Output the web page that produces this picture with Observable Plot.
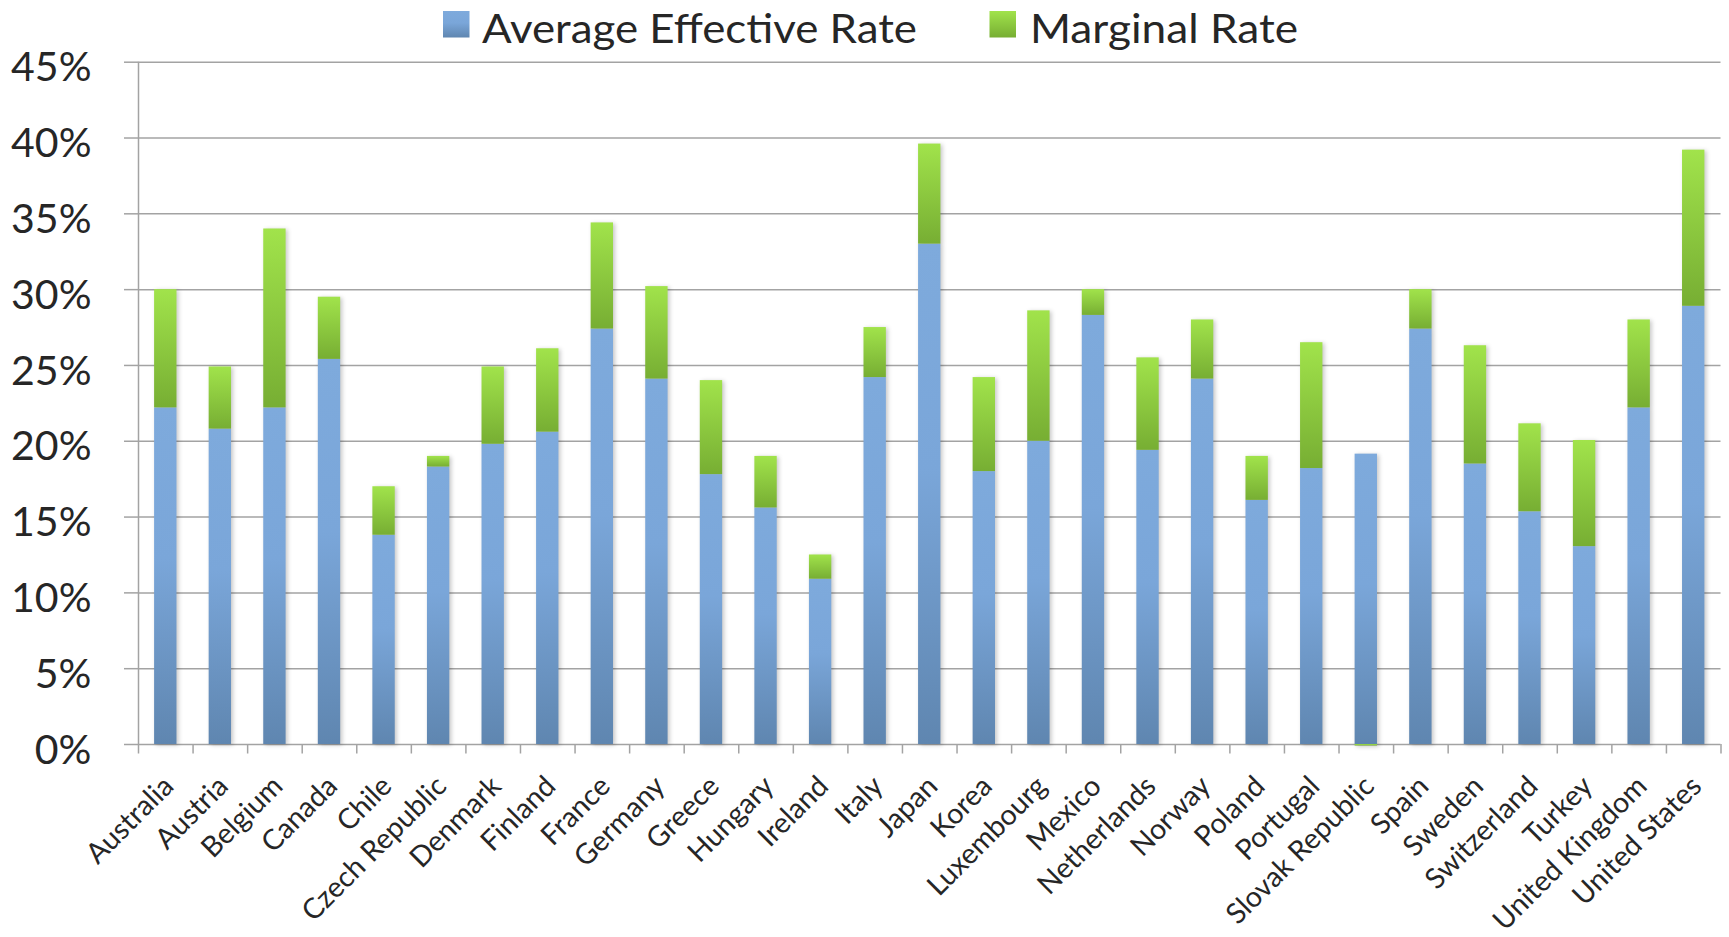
<!DOCTYPE html>
<html>
<head>
<meta charset="utf-8">
<script src="https://cdn.jsdelivr.net/npm/d3@7"></script>
<script src="https://cdn.jsdelivr.net/npm/@observablehq/plot@0.6"></script>
<style>
  html, body { margin: 0; padding: 0; background: #ffffff; }
  body { font-family: Lato, "Open Sans", sans-serif; color: #262626; }
  #legend, #chart { display: block; }
  #chart svg { display: block; }
</style>
</head>
<body>
<svg id="legend" width="1729" height="54"></svg>
<div id="chart"></div>
<script>
// ---- data ----
const countries = [
  "Australia", "Austria", "Belgium", "Canada", "Chile", "Czech Republic", "Denmark",
  "Finland", "France", "Germany", "Greece", "Hungary", "Ireland", "Italy", "Japan",
  "Korea", "Luxembourg", "Mexico", "Netherlands", "Norway", "Poland", "Portugal",
  "Slovak Republic", "Spain", "Sweden", "Switzerland", "Turkey", "United Kingdom",
  "United States"
];
const averageEffectiveRate = [
  22.2, 20.8, 22.2, 25.4, 13.8, 18.3, 19.8,
  20.6, 27.4, 24.1, 17.8, 15.6, 10.9, 24.2, 33.0,
  18.0, 20.0, 28.3, 19.4, 24.1, 16.1, 18.2,
  19.15, 27.4, 18.5, 15.35, 13.05, 22.2,
  28.9
];
const marginalRate = [
  7.8, 4.1, 11.8, 4.1, 3.2, 0.7, 5.1,
  5.5, 7.0, 6.1, 6.2, 3.4, 1.6, 3.3, 6.6,
  6.2, 8.6, 1.7, 6.1, 3.9, 2.9, 8.3,
  -0.1, 2.6, 7.8, 5.8, 7.0, 5.8,
  10.3
];
const seriesNames = ["Average Effective Rate", "Marginal Rate"];
const yTicks = [0, 5, 10, 15, 20, 25, 30, 35, 40, 45];

const rows = countries.flatMap((c, i) => [
  { country: c, series: seriesNames[0], value: averageEffectiveRate[i] },
  { country: c, series: seriesNames[1], value: marginalRate[i] }
]);

// ---- layout ----
const LEGEND_H = 54;
const W = 1729, H = 937 - LEGEND_H;
const mL = 138, mR = 8.5, mT = 61.7 - LEGEND_H, mB = H - (744 - LEGEND_H);
const step = (W - mL - mR) / countries.length;
const gridColor = "#a3a3a3";
const textColor = "#262626";
const FONT = "Lato, 'Open Sans', sans-serif";

const plot = Plot.plot({
  width: W,
  height: H,
  marginLeft: mL,
  marginRight: mR,
  marginTop: mT,
  marginBottom: mB,
  style: { fontFamily: FONT, color: textColor, background: "transparent", overflow: "visible" },
  x: { domain: countries, paddingInner: 0.59, paddingOuter: 0.295, round: false, label: null },
  y: { domain: [0, 45], label: null },
  color: { domain: seriesNames, range: ["url(#gBlue)", "url(#gGreen)"] },
  marks: [
    Plot.gridY({ ticks: yTicks, stroke: gridColor, strokeOpacity: 1, strokeWidth: 1.5 }),
    Plot.axisY({ ticks: yTicks, tickSize: 14, tickFormat: () => "", stroke: gridColor, strokeWidth: 1.5, label: null }),
    Plot.axisY({ ticks: yTicks, tickSize: 0, tickPadding: 47, fontSize: 41, dy: 6,
                 tickFormat: d => d + "%", fill: textColor, label: null }),
    // y-axis line at the left edge of the first band step
    Plot.ruleX([countries[0]], { x: d => d, y1: 0, y2: 45, dx: -step / 2, stroke: gridColor, strokeWidth: 1.5 }),
    // category boundary tick marks below the baseline
    Plot.ruleX(countries, { x: d => d, y1: 0, y2: 0, insetBottom: -9.5, dx: -step / 2, stroke: gridColor, strokeWidth: 1.5 }),
    Plot.ruleX([countries[countries.length - 1]], { x: d => d, y1: 0, y2: 0, insetBottom: -9.5, dx: step / 2, stroke: gridColor, strokeWidth: 1.5 }),
    Plot.barY(rows, Plot.stackY({ x: "country", y: "value", fill: "series" })),
    Plot.axisX({ tickSize: 0, tickRotate: -45, tickPadding: 37, dx: 3, fontSize: 28.5,
                 textAnchor: "end", lineAnchor: "middle", fill: textColor, label: null })
  ]
});

// gradients for the bars
const svg = d3.select(plot);
const defs = svg.insert("defs", ":first-child");
function addGradient(sel, id, stops) {
  const g = sel.append("linearGradient").attr("id", id)
    .attr("x1", 0).attr("y1", 0).attr("x2", 0).attr("y2", 1);
  stops.forEach(([o, c]) => g.append("stop").attr("offset", o).attr("stop-color", c));
}
const blueStops = [["0%", "#7eaadc"], ["45%", "#7aa6d9"], ["100%", "#5f86b0"]];
const greenStops = [["0%", "#a1e34b"], ["100%", "#77ae33"]];
addGradient(defs, "gBlue", blueStops);
addGradient(defs, "gGreen", greenStops);
svg.selectAll("g[aria-label='bar']").style("filter", "drop-shadow(2px 1px 2px rgba(0,0,0,0.22))");

document.getElementById("chart").appendChild(plot);

// ---- legend (above the chart) ----
const lg = d3.select("#legend");
const ldefs = lg.append("defs");
addGradient(ldefs, "lgBlue", blueStops);
addGradient(ldefs, "lgGreen", greenStops);
const legendItems = [
  { name: seriesNames[0], fill: "url(#lgBlue)", sx: 443, tx: 482, tw: 435 },
  { name: seriesNames[1], fill: "url(#lgGreen)", sx: 989.5, tx: 1030, tw: 268 }
];
legendItems.forEach(it => {
  lg.append("rect").attr("x", it.sx).attr("y", 11).attr("width", 26.5).attr("height", 26.5).attr("fill", it.fill);
  lg.append("text").attr("x", it.tx).attr("y", 42.7)
    .attr("font-family", FONT).attr("font-size", 41).attr("fill", textColor)
    .attr("textLength", it.tw).attr("lengthAdjust", "spacingAndGlyphs")
    .text(it.name);
});
</script>
</body>
</html>
